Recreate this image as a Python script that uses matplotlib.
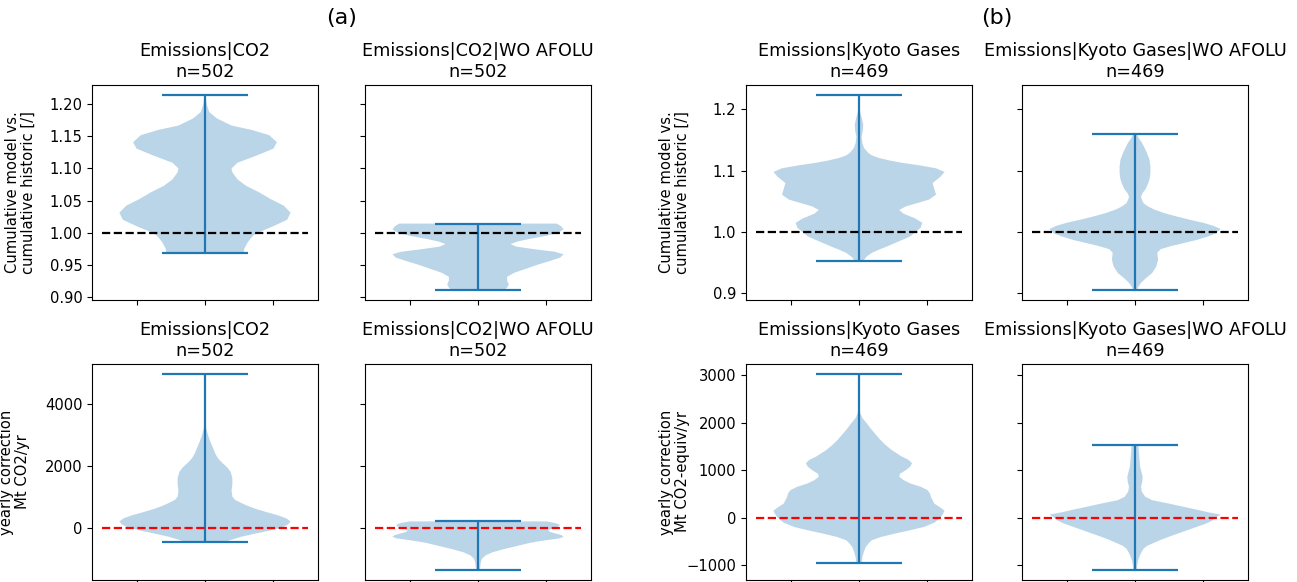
import numpy as np
import matplotlib
matplotlib.use("Agg")
import matplotlib.pyplot as plt

plt.rcParams["font.size"] = 10.6
plt.rcParams["axes.titlesize"] = 12.7
plt.rcParams["lines.linewidth"] = 1.6

# density profiles (height, relative width) for each violin
co2_cum_y = [0.968, 0.975, 0.985, 0.995, 1.0, 1.01, 1.02, 1.031, 1.042, 1.052, 1.063, 1.073, 1.083,
             1.094, 1.10, 1.109, 1.12, 1.131, 1.141, 1.152, 1.16, 1.167, 1.178, 1.188, 1.20, 1.215]
co2_cum_w = [0.45, 0.46, 0.5, 0.56, 0.62, 0.8, 0.96, 1.0, 0.92, 0.77, 0.63, 0.48, 0.38,
             0.32, 0.31, 0.38, 0.6, 0.8, 0.84, 0.75, 0.55, 0.31, 0.14, 0.05, 0.02, 0.005]

co2_wo_cum_y = [0.910, 0.914, 0.919, 0.925, 0.931, 0.937, 0.943, 0.95, 0.956, 0.961, 0.966, 0.970,
                0.974, 0.978, 0.982, 0.986, 0.990, 0.995, 1.0, 1.005, 1.010, 1.014]
co2_wo_cum_w = [0.3, 0.34, 0.36, 0.34, 0.34, 0.42, 0.55, 0.7, 0.85, 0.96, 1.0, 0.9,
                0.66, 0.45, 0.38, 0.46, 0.6, 0.8, 0.94, 1.0, 0.97, 0.92]

co2_yr_y = [-460, -400, -300, -200, -100, 0, 100, 200, 300, 400, 500, 600, 700, 800, 900, 1000,
            1200, 1400, 1600, 1800, 1950, 2100, 2250, 2400, 2600, 2800, 3000, 3200, 3500, 4000, 4500, 4980]
co2_yr_w = [0.24, 0.3, 0.42, 0.58, 0.75, 0.9, 0.97, 1.0, 0.95, 0.85, 0.72, 0.6, 0.5, 0.42, 0.35, 0.32,
            0.31, 0.32, 0.32, 0.3, 0.26, 0.2, 0.15, 0.12, 0.09, 0.06, 0.035, 0.015, 0.006, 0.003, 0.002, 0.001]

co2_wo_yr_y = [-1380, -1300, -1200, -1100, -1000, -900, -800, -700, -600, -500, -450, -400, -350, -300,
               -250, -200, -150, -100, -50, 0, 50, 100, 150, 200]
co2_wo_yr_w = [0.02, 0.025, 0.03, 0.035, 0.05, 0.09, 0.17, 0.3, 0.45, 0.6, 0.7, 0.82, 0.95, 1.0,
               0.98, 0.92, 0.85, 0.82, 0.85, 0.9, 0.95, 0.95, 0.9, 0.8]

ky_cum_y = [0.953, 0.96, 0.966, 0.971, 0.976, 0.982, 0.988, 0.993, 1.0, 1.007, 1.015, 1.022, 1.03,
            1.036, 1.042, 1.048, 1.053, 1.061, 1.07, 1.08, 1.09, 1.098, 1.104, 1.109, 1.113, 1.117,
            1.121, 1.125, 1.129, 1.137, 1.145, 1.155, 1.165, 1.175, 1.185, 1.195, 1.205, 1.215, 1.224]
ky_cum_w = [0.05, 0.09, 0.15, 0.23, 0.32, 0.42, 0.52, 0.6, 0.66, 0.72, 0.74, 0.66, 0.52,
            0.47, 0.55, 0.7, 0.82, 0.9, 0.88, 0.86, 0.95, 1.0, 0.9, 0.7, 0.5, 0.35,
            0.23, 0.15, 0.11, 0.06, 0.04, 0.03, 0.045, 0.05, 0.035, 0.015, 0.006, 0.003, 0.001]

ky_wo_cum_y = [0.905, 0.911, 0.917, 0.925, 0.933, 0.944, 0.955, 0.966, 0.972, 0.977, 0.982, 0.987,
               0.993, 0.998, 1.005, 1.01, 1.015, 1.02, 1.026, 1.031, 1.037, 1.042, 1.047, 1.053,
               1.058, 1.064, 1.069, 1.078, 1.086, 1.096, 1.107, 1.118, 1.129, 1.138, 1.146, 1.152,
               1.157, 1.160]
ky_wo_cum_w = [0.02, 0.04, 0.07, 0.13, 0.2, 0.25, 0.27, 0.26, 0.3, 0.42, 0.57, 0.72,
               0.86, 0.95, 1.0, 0.92, 0.8, 0.64, 0.47, 0.34, 0.22, 0.15, 0.1, 0.08,
               0.07, 0.09, 0.12, 0.15, 0.17, 0.18, 0.18, 0.17, 0.14, 0.11, 0.08, 0.05,
               0.03, 0.02]

ky_yr_y = [-950, -900, -820, -700, -610, -540, -470, -400, -330, -260, -190, -100, 0, 80, 150, 220,
           300, 370, 440, 510, 585, 655, 725, 795, 866, 930, 1007, 1080, 1148, 1220, 1290, 1360, 1430,
           1535, 1640, 1745, 1850, 1920, 1990, 2100, 2200, 2350, 2500, 2750, 3030]
ky_yr_w = [0.03, 0.035, 0.04, 0.06, 0.08, 0.11, 0.15, 0.26, 0.42, 0.6, 0.76, 0.88, 0.95, 0.98, 1.0, 0.95,
           0.88, 0.86, 0.84, 0.83, 0.8, 0.72, 0.6, 0.52, 0.47, 0.48, 0.55, 0.6, 0.62, 0.58, 0.5, 0.44, 0.38,
           0.31, 0.25, 0.2, 0.15, 0.12, 0.09, 0.04, 0.015, 0.007, 0.004, 0.002, 0.001]

ky_wo_yr_y = [-1100, -1000, -900, -824, -740, -648, -590, -542, -470, -401, -330, -260, -190, -120,
              -60, 0, 70, 120, 162, 232, 303, 373, 444, 550, 655, 760, 866, 970, 1077, 1180, 1288,
              1400, 1530]
ky_wo_yr_w = [0.02, 0.025, 0.035, 0.05, 0.07, 0.1, 0.14, 0.2, 0.29, 0.39, 0.5, 0.61, 0.72, 0.83,
              0.9, 0.94, 1.0, 0.85, 0.75, 0.57, 0.39, 0.2, 0.12, 0.08, 0.07, 0.085, 0.09, 0.075, 0.06,
              0.055, 0.05, 0.045, 0.04]

titles = ["Emissions|CO2", "Emissions|CO2|WO AFOLU",
          "Emissions|Kyoto Gases", "Emissions|Kyoto Gases|WO AFOLU"]
counts = [502, 502, 469, 469]
ylabel_cum = "Cumulative model vs.\ncumulative historic [/]"
ylabels_yr = ["yearly correction\nMt CO2/yr", "yearly correction\nMt CO2-equiv/yr"]
yticks_cum = [[0.90, 0.95, 1.00, 1.05, 1.10, 1.15, 1.20], [0.9, 1.0, 1.1, 1.2]]
yticks_yr = [[0, 2000, 4000], [-1000, 0, 1000, 2000, 3000]]

W, H = 1297, 582
fig = plt.figure(figsize=(W / 100, H / 100), dpi=100)


def add_ax(x0, x1, y0, y1, sharey=None):
    return fig.add_axes([x0 / W, 1 - y1 / H, (x1 - x0) / W, (y1 - y0) / H], sharey=sharey)


def draw(ax, ys, ws, ref, color, title, n):
    stats = {"coords": np.array(ys), "vals": np.array(ws), "mean": np.mean(ys),
             "median": np.median(ys), "min": ys[0], "max": ys[-1]}
    ax.violin([stats], positions=[1], widths=0.625, showextrema=True)
    ax.hlines(ref, 0.625, 1.375, colors=color, linestyles="dashed", linewidth=1.6)
    ax.set_xticks([0.75, 1.0, 1.25])
    ax.set_xticklabels([])
    ax.set_title(title + "\nn=" + str(n))


panels = [
    # x-range of left and right axes per group, ylabel offsets (axes units) top/bottom
    ((92, 318), (365, 591), 0, (-0.248, -0.274)),
    ((746, 972), (1022, 1248), 2, (-0.248, -0.248)),
]
cum_data = [(co2_cum_y, co2_cum_w), (co2_wo_cum_y, co2_wo_cum_w),
            (ky_cum_y, ky_cum_w), (ky_wo_cum_y, ky_wo_cum_w)]
yr_data = [(co2_yr_y, co2_yr_w), (co2_wo_yr_y, co2_wo_yr_w),
           (ky_yr_y, ky_yr_w), (ky_wo_yr_y, ky_wo_yr_w)]

for (lx, rx, k, lab_x), tag in zip(panels, ["(a)", "(b)"]):
    g = k // 2
    a1 = add_ax(lx[0], lx[1], 85, 300)
    a2 = add_ax(rx[0], rx[1], 85, 300, sharey=a1)
    b1 = add_ax(lx[0], lx[1], 364, 580)
    b2 = add_ax(rx[0], rx[1], 364, 580, sharey=b1)
    draw(a1, *cum_data[k], 1, "k", titles[k], counts[k])
    draw(a2, *cum_data[k + 1], 1, "k", titles[k + 1], counts[k + 1])
    draw(b1, *yr_data[k], 0, "r", titles[k], counts[k])
    draw(b2, *yr_data[k + 1], 0, "r", titles[k + 1], counts[k + 1])
    a2.tick_params(labelleft=False)
    b2.tick_params(labelleft=False)
    a1.set_yticks(yticks_cum[g])
    b1.set_yticks(yticks_yr[g])
    a1.set_ylabel(ylabel_cum, linespacing=1.05)
    b1.set_ylabel(ylabels_yr[g], linespacing=1.05)
    a1.yaxis.set_label_coords(lab_x[0], 0.5)
    b1.yaxis.set_label_coords(lab_x[1], 0.5)
    fig.text((lx[0] + rx[1]) / 2 / W, 1 - 18 / H, tag, ha="center", va="center", fontsize=16)

fig.savefig("out.png", dpi=100)
